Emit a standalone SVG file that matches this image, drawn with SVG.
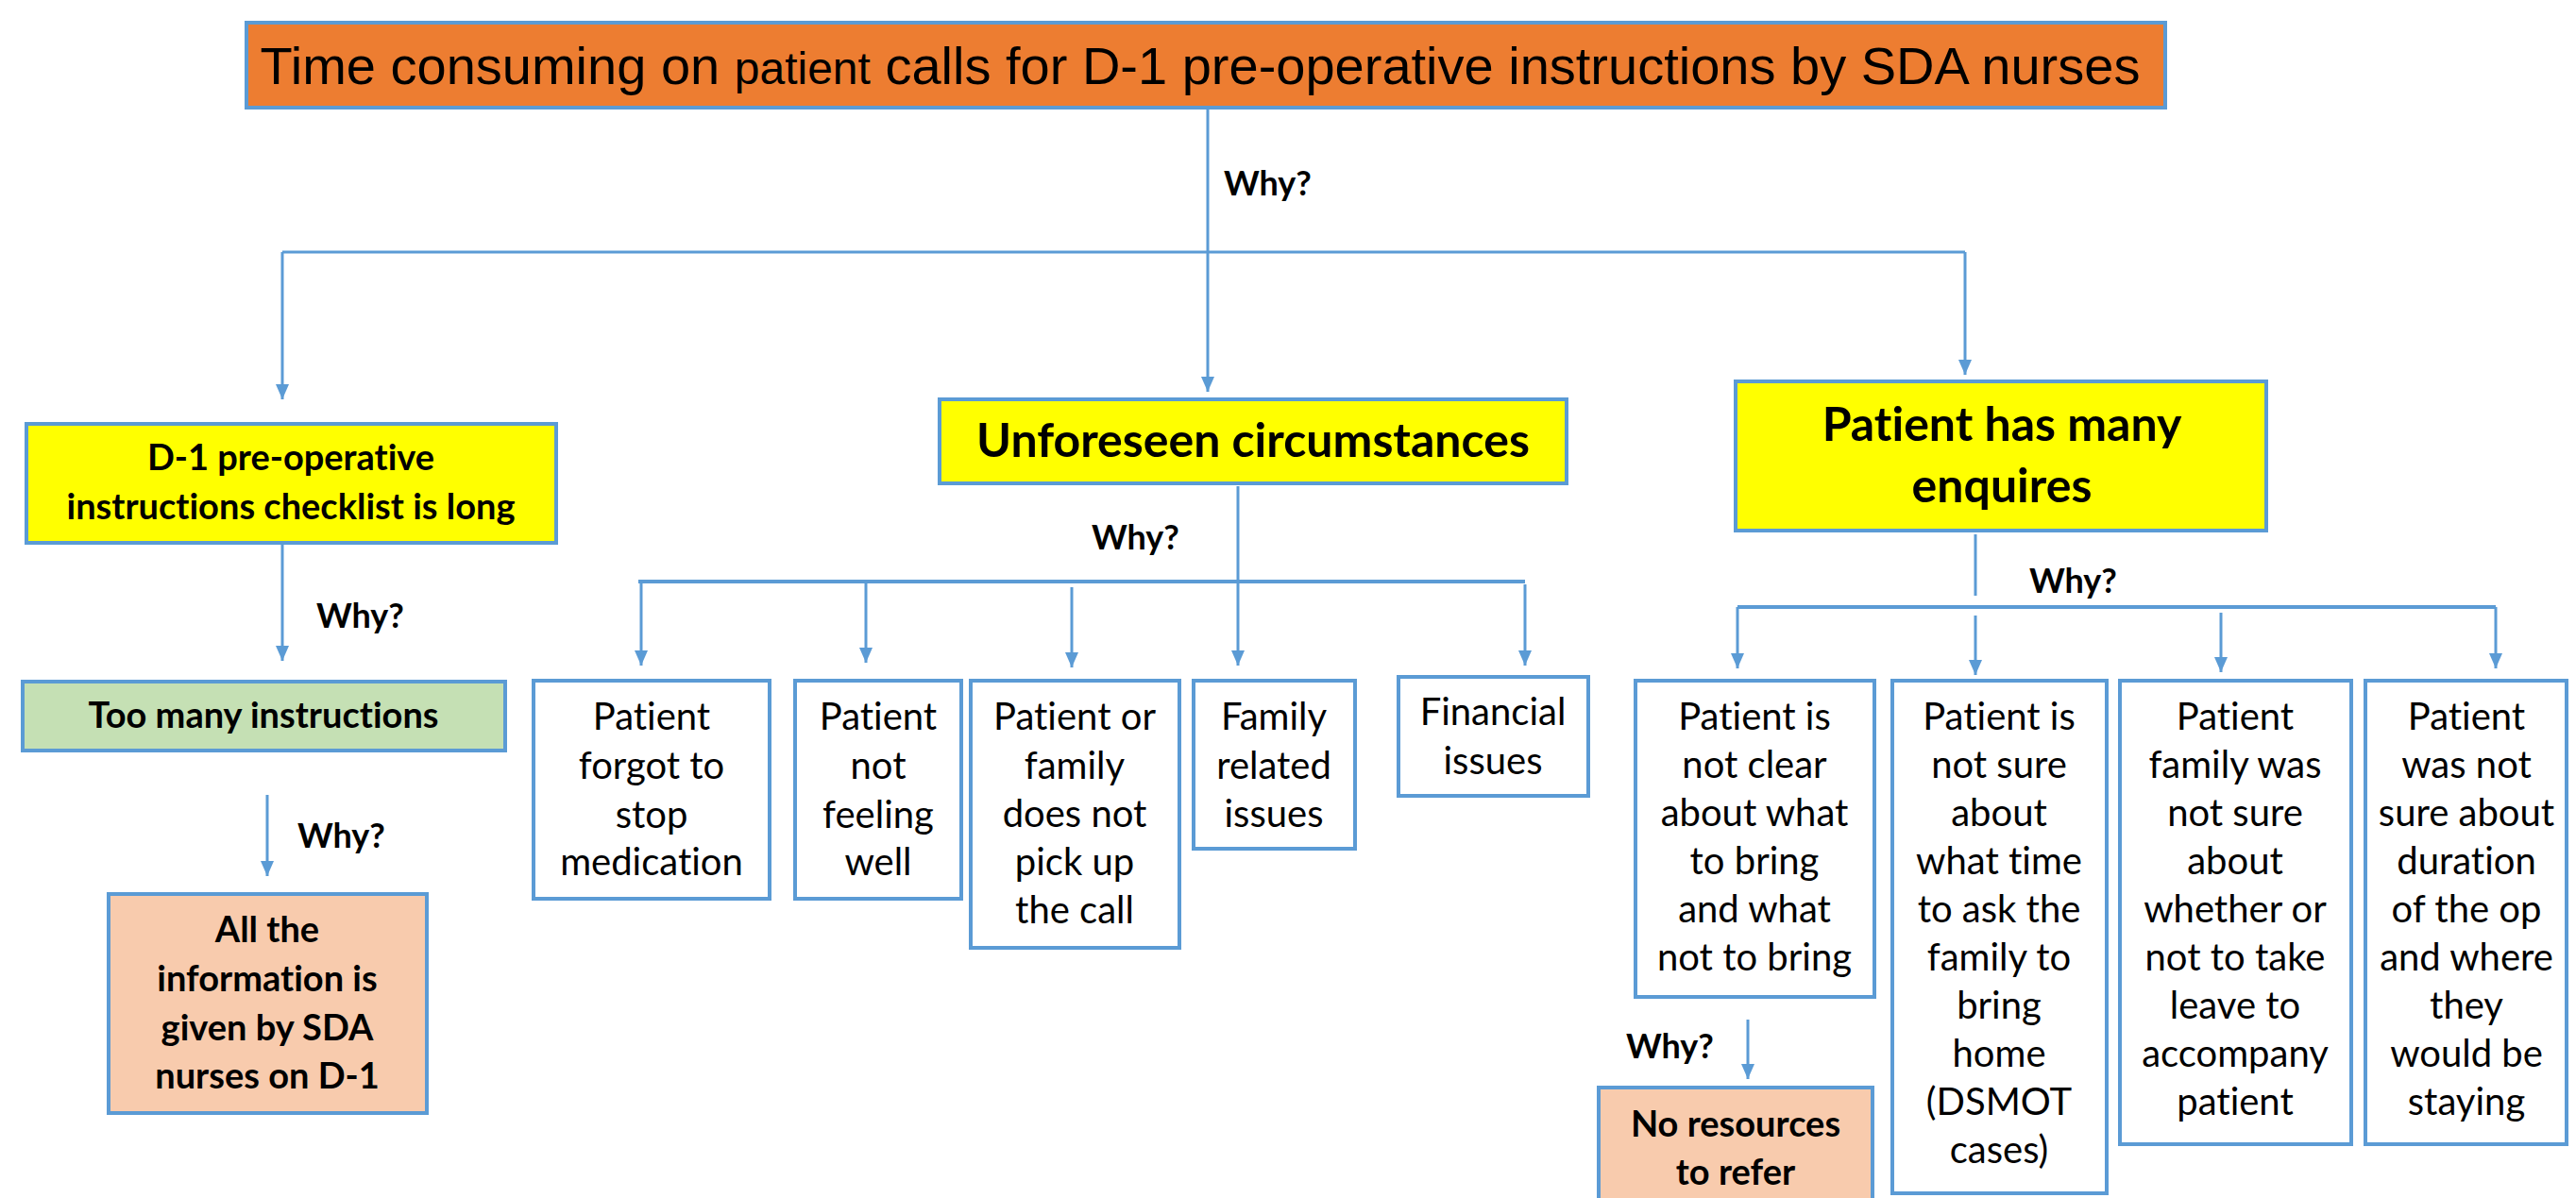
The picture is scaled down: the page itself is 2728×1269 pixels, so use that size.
<svg xmlns="http://www.w3.org/2000/svg" width="2728" height="1269" viewBox="0 0 2728 1269">
<defs>
<style>
.box{stroke:#5B9BD5;stroke-width:4}
.w{fill:#FFFFFF}
.y{fill:#FFFF00}
.g{fill:#C5E0B4}
.p{fill:#F8CBAD}
.o{fill:#ED7D31}
text{font-variant-ligatures:none}
.t{font-family:Lato,"Open Sans",sans-serif;font-size:40px;fill:#000;text-anchor:middle}
.b{font-family:Lato,"Open Sans",sans-serif;font-size:38px;font-weight:bold;fill:#000;text-anchor:middle}
.h{font-family:Lato,"Open Sans",sans-serif;font-size:50px;font-weight:bold;fill:#000;text-anchor:middle}
.why{font-family:Lato,"Open Sans",sans-serif;font-size:36px;font-weight:bold;fill:#000}
.title{font-family:"Liberation Sans",Arial,sans-serif;font-size:56px;fill:#000;text-anchor:middle}
.c{fill:none;stroke:#5B9BD5;stroke-width:3}
</style>
<marker id="arr" viewBox="0 0 16 14" markerWidth="16" markerHeight="14" refX="16" refY="7" orient="auto" markerUnits="userSpaceOnUse">
<path d="M0,0 L16,7 L0,14 z" fill="#5B9BD5"/>
</marker>
</defs>
<rect width="2728" height="1269" fill="#FFFFFF"/>

<g id="connectors">
<path class="c" d="M1279,115 V415" marker-end="url(#arr)"/>
<path class="c" d="M299,267 H2081"/>
<path class="c" d="M299,267 V423" marker-end="url(#arr)"/>
<path class="c" d="M2081,267 V397" marker-end="url(#arr)"/>
<path class="c" d="M299,576 V700" marker-end="url(#arr)"/>
<path class="c" d="M283,842 V928" marker-end="url(#arr)"/>
<path class="c" d="M1311,515 V616"/>
<path class="c" d="M676,616 H1615" style="stroke-width:4"/>
<path class="c" d="M679,616 V705" marker-end="url(#arr)"/>
<path class="c" d="M917,616 V702" marker-end="url(#arr)"/>
<path class="c" d="M1135,622 V707" marker-end="url(#arr)"/>
<path class="c" d="M1311,616 V705" marker-end="url(#arr)"/>
<path class="c" d="M1615,619 V705" marker-end="url(#arr)"/>
<path class="c" d="M2092,566 V631"/>
<path class="c" d="M1840,643 H2643" style="stroke-width:4"/>
<path class="c" d="M1840,643 V708" marker-end="url(#arr)"/>
<path class="c" d="M2092,652 V715" marker-end="url(#arr)"/>
<path class="c" d="M2352,649 V712" marker-end="url(#arr)"/>
<path class="c" d="M2643,643 V708" marker-end="url(#arr)"/>
<path class="c" d="M1851,1080 V1143" marker-end="url(#arr)"/>
</g>

<g id="why-labels">
<text class="why" x="1296" y="207">Why?</text>
<text class="why" x="335" y="665">Why?</text>
<text class="why" x="315" y="898">Why?</text>
<text class="why" x="1156" y="582">Why?</text>
<text class="why" x="2149" y="628">Why?</text>
<text class="why" x="1722" y="1121">Why?</text>
</g>

<g id="title">
<rect class="box o" x="261" y="24" width="2032" height="90"/>
<text class="title" x="1271" y="89">Time consuming on <tspan style="font-size:48px">patient</tspan> calls for D-1 pre-operative instructions by SDA nurses</text>
</g>

<g id="checklist-long">
<rect class="box y" x="28" y="449" width="561" height="126"/>
<text class="b" x="308" y="498">D-1 pre-operative</text>
<text class="b" x="308" y="550">instructions checklist is long</text>
</g>

<g id="too-many">
<rect class="box g" x="24" y="722" width="511" height="73"/>
<text class="b" x="279" y="771">Too many instructions</text>
</g>

<g id="all-info">
<rect class="box p" x="115" y="947" width="337" height="232"/>
<text class="b" x="283" y="998">All the</text>
<text class="b" x="283" y="1050">information is</text>
<text class="b" x="283" y="1102">given by SDA</text>
<text class="b" x="283" y="1153">nurses on D-1</text>
</g>

<g id="unforeseen">
<rect class="box y" x="995" y="423" width="664" height="89"/>
<text class="h" x="1327" y="484">Unforeseen circumstances</text>
</g>

<g id="forgot-medication">
<rect class="box w" x="565" y="721" width="250" height="231"/>
<text class="t" x="690" y="773">Patient</text>
<text class="t" x="690" y="825">forgot to</text>
<text class="t" x="690" y="877">stop</text>
<text class="t" x="690" y="927">medication</text>
</g>

<g id="not-feeling-well">
<rect class="box w" x="842" y="721" width="176" height="231"/>
<text class="t" x="930" y="773">Patient</text>
<text class="t" x="930" y="825">not</text>
<text class="t" x="930" y="877">feeling</text>
<text class="t" x="930" y="927">well</text>
</g>

<g id="no-pickup">
<rect class="box w" x="1028" y="721" width="221" height="283"/>
<text class="t" x="1138" y="773">Patient or</text>
<text class="t" x="1138" y="825">family</text>
<text class="t" x="1138" y="876">does not</text>
<text class="t" x="1138" y="927">pick up</text>
<text class="t" x="1138" y="978">the call</text>
</g>

<g id="family-issues">
<rect class="box w" x="1264" y="721" width="171" height="178"/>
<text class="t" x="1349" y="773">Family</text>
<text class="t" x="1349" y="825">related</text>
<text class="t" x="1349" y="876">issues</text>
</g>

<g id="financial">
<rect class="box w" x="1481" y="717" width="201" height="126"/>
<text class="t" x="1581" y="768">Financial</text>
<text class="t" x="1581" y="820">issues</text>
</g>

<g id="many-enquires">
<rect class="box y" x="1838" y="404" width="562" height="158"/>
<text class="h" x="2120" y="467">Patient has many</text>
<text class="h" x="2120" y="532">enquires</text>
</g>

<g id="what-to-bring">
<rect class="box w" x="1732" y="721" width="253" height="335"/>
<text class="t" x="1858" y="773">Patient is</text>
<text class="t" x="1858" y="824">not clear</text>
<text class="t" x="1858" y="875">about what</text>
<text class="t" x="1858" y="926">to bring</text>
<text class="t" x="1858" y="977">and what</text>
<text class="t" x="1858" y="1028">not to bring</text>
</g>

<g id="what-time">
<rect class="box w" x="2004" y="721" width="227" height="543"/>
<text class="t" x="2117" y="773">Patient is</text>
<text class="t" x="2117" y="824">not sure</text>
<text class="t" x="2117" y="875">about</text>
<text class="t" x="2117" y="926">what time</text>
<text class="t" x="2117" y="977">to ask the</text>
<text class="t" x="2117" y="1028">family to</text>
<text class="t" x="2117" y="1079">bring</text>
<text class="t" x="2117" y="1130">home</text>
<text class="t" x="2117" y="1181">(DSMOT</text>
<text class="t" x="2117" y="1232">cases)</text>
</g>

<g id="take-leave">
<rect class="box w" x="2245" y="721" width="245" height="491"/>
<text class="t" x="2367" y="773">Patient</text>
<text class="t" x="2367" y="824">family was</text>
<text class="t" x="2367" y="875">not sure</text>
<text class="t" x="2367" y="926">about</text>
<text class="t" x="2367" y="977">whether or</text>
<text class="t" x="2367" y="1028">not to take</text>
<text class="t" x="2367" y="1079">leave to</text>
<text class="t" x="2367" y="1130">accompany</text>
<text class="t" x="2367" y="1181">patient</text>
</g>

<g id="duration">
<rect class="box w" x="2505" y="721" width="213" height="491"/>
<text class="t" x="2612" y="773">Patient</text>
<text class="t" x="2612" y="824">was not</text>
<text class="t" x="2612" y="875">sure about</text>
<text class="t" x="2612" y="926">duration</text>
<text class="t" x="2612" y="977">of the op</text>
<text class="t" x="2612" y="1028">and where</text>
<text class="t" x="2612" y="1079">they</text>
<text class="t" x="2612" y="1130">would be</text>
<text class="t" x="2612" y="1181">staying</text>
</g>

<g id="no-resources">
<rect class="box p" x="1693" y="1152" width="290" height="130"/>
<text class="b" x="1838" y="1204">No resources</text>
<text class="b" x="1838" y="1255">to refer</text>
</g>
</svg>
